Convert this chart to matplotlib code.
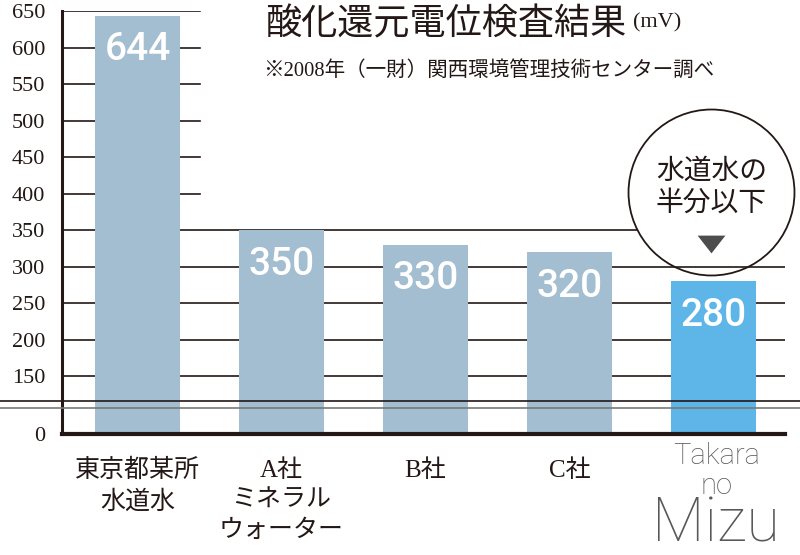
import numpy as np
import matplotlib
matplotlib.use("Agg")
import matplotlib.pyplot as plt
from matplotlib.transforms import blended_transform_factory, ScaledTranslation
from matplotlib.lines import Line2D

# ---------------- data ----------------
categories = ["東京都某所\n水道水", "A社\nミネラル\nウォーター", "B社", "C社", ""]
brand_top = "Takara\nno"
brand_big = "Mizu"
values = [644, 350, 330, 320, 280]
value_labels = ["644", "350", "330", "320", "280"]
yticks = [0, 150, 200, 250, 300, 350, 400, 450, 500, 550, 600, 650]
title = "酸化還元電位検査結果"
unit = "(mV)"
subtitle = "※2008年（一財）関西環境管理技術センター調べ"
callout = "水道水の\n半分以下"

# ---------------- style ----------------
INK = "#231815"
BAR = "#a3bdd1"
HILITE = "#5db5e8"
GREY = "#595757"
JP = ["Liberation Serif", "Noto Sans CJK JP", "DejaVu Sans"]
BRAND = ["Roboto", "Lato", "DejaVu Sans"]

# broken (compressed) scale below 150
BREAK = 150.0
LOW_PX = 58.0
HI_PX_PER = 0.7294


def fwd(v):
    v = np.asarray(v, dtype=float)
    return np.where(v <= BREAK, v * LOW_PX / BREAK, LOW_PX + (v - BREAK) * HI_PX_PER)


def inv(p):
    p = np.asarray(p, dtype=float)
    return np.where(p <= LOW_PX, p * BREAK / LOW_PX, BREAK + (p - LOW_PX) / HI_PX_PER)


fig = plt.figure(figsize=(8, 5.55), dpi=100)
H = float(fwd(650))
ax = fig.add_axes([62 / 800, (555 - 434) / 555, (785 - 62) / 800, H / 555])
ax.set_yscale("function", functions=(fwd, inv))
ax.set_ylim(0, 650)
x = np.arange(len(values))
ax.set_xlim(-0.524, 4.497)

colors = [BAR] * (len(values) - 1) + [HILITE]
ax.bar(x, values, width=0.59, color=colors, zorder=2)

# gridlines
for t in yticks[1:]:
    if t <= 300:
        ax.axhline(t, color=INK, lw=1.2, zorder=1.7)
    elif t == 350:
        ax.axhline(t, color=INK, lw=1.2, zorder=1.2)
    else:
        ax.axhline(t, xmax=0.191, color=INK, lw=1.2, zorder=1.2)

# value labels inside bars
for xi, v, lab in zip(x, values, value_labels):
    ax.annotate(lab, xy=(xi, v), xytext=(0, -24.5), textcoords="offset points",
                ha="center", va="center", color="white", fontsize=28,
                family=["Roboto", "Liberation Sans"], weight="medium", zorder=3)

# callout above the last bar
cx, cy = x[-1], values[-1]
circ_tr = ax.transData + ScaledTranslation(-2 / 100, 88.7 / 100, fig.dpi_scale_trans)
ax.plot([cx], [cy], marker="o", ms=119.5, mfc="white", mec="none",
        transform=circ_tr, zorder=1.5, clip_on=False)
ax.plot([cx], [cy], marker="o", ms=119.5, mfc="none", mec=INK, mew=1.3,
        transform=circ_tr, zorder=3, clip_on=False)
tri_tr = ax.transData + ScaledTranslation(-2 / 100, 37 / 100, fig.dpi_scale_trans)
ax.plot([cx], [cy], marker=[(-1, 0.64), (1, 0.64), (0, -0.64)], ms=20,
        color="#4d4d4d", mec="none", transform=tri_tr, zorder=3, clip_on=False)
ax.annotate(callout, xy=(cx, cy), xytext=(-1.5, 93 * 0.72), textcoords="offset points",
            ha="center", va="center", fontsize=20, family=JP, color=INK,
            linespacing=1.3, zorder=4)

# axes styling
for s in ["top", "right"]:
    ax.spines[s].set_visible(False)
ax.spines["left"].set_linewidth(2.2)
ax.spines["left"].set_color(INK)
ax.spines["bottom"].set_linewidth(3)
ax.spines["bottom"].set_color(INK)
ax.spines["left"].set_zorder(5)
ax.spines["bottom"].set_zorder(5)

ax.set_yticks(yticks)
ax.set_yticklabels([str(t) for t in yticks], family="Liberation Serif", fontsize=16, color=INK)
ax.tick_params(axis="y", length=0, pad=12)
ax.yaxis.set_minor_locator(matplotlib.ticker.NullLocator())

ax.set_xticks(x)
ax.set_xticklabels(categories, family=JP, fontsize=18, color=INK, linespacing=1.45)
ax.tick_params(axis="x", length=0, pad=18)

# brand name under the last bar (baseline of last line "no")
ax.annotate(brand_top, xy=(x[-1], 0), xytext=(2, -43.5), textcoords="offset points",
            ha="center", va="baseline", fontsize=21, color=GREY, linespacing=1.1,
            family=BRAND, weight="light", annotation_clip=False)
ax.annotate(brand_big, xy=(x[-1], 0), xytext=(2, -77.5), textcoords="offset points",
            ha="center", va="baseline", fontsize=44, color=GREY,
            family=BRAND, weight="light", annotation_clip=False)

# axis break lines across the full width
btr = blended_transform_factory(fig.transFigure, ax.transData)
fig.add_artist(Line2D([0, 1], [85, 85], transform=btr, color=INK, lw=1.2, zorder=6))
fig.add_artist(Line2D([0, 1], [67, 67], transform=btr, color="#7a7878", lw=1.2, zorder=6))

# titles
fig.text(265 / 800, 1 - 25 / 555, title, fontsize=26, family=JP, color=INK, va="center", ha="left")
fig.text(633 / 800, 1 - 23 / 555, unit, fontsize=16, family=JP, color=INK, va="center", ha="left")
fig.text(263 / 800, 1 - 71 / 555, subtitle, fontsize=14.8, family=JP, color=INK, va="center", ha="left")

fig.savefig("out.png", dpi=100)
